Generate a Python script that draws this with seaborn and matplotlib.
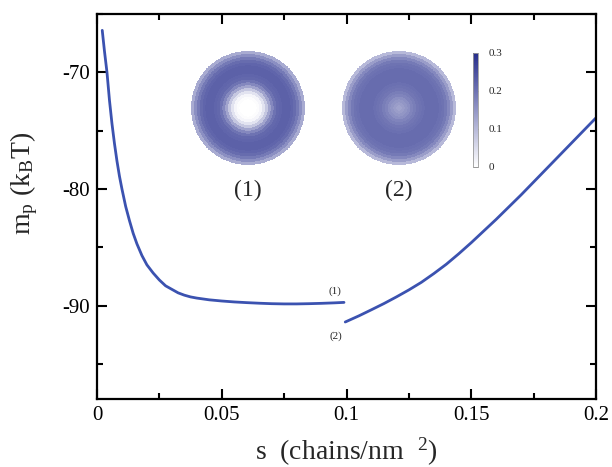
import numpy as np
import pandas as pd
import matplotlib
matplotlib.use("Agg")
import matplotlib.pyplot as plt
import seaborn as sns
from matplotlib.colors import LinearSegmentedColormap
from matplotlib.ticker import MultipleLocator

# ---------------- data ----------------
s_branch1 = [0.0021, 0.003, 0.004, 0.005, 0.006, 0.007, 0.008, 0.009, 0.010, 0.0115,
             0.013, 0.0145, 0.016, 0.018, 0.020, 0.0225, 0.025, 0.0275, 0.030, 0.0325,
             0.035, 0.0375, 0.040, 0.045, 0.050, 0.055, 0.060, 0.065, 0.070, 0.075,
             0.080, 0.085, 0.090, 0.095, 0.099]
m_branch1 = [-66.4, -68.2, -70.0, -72.4, -74.4, -76.1, -77.6, -78.9, -80.0, -81.5,
             -82.7, -83.8, -84.7, -85.7, -86.5, -87.2, -87.8, -88.3, -88.6, -88.9,
             -89.1, -89.25, -89.35, -89.5, -89.6, -89.68, -89.74, -89.79, -89.83, -89.85,
             -89.85, -89.83, -89.8, -89.76, -89.72]
s_branch2 = [0.0995, 0.105, 0.11, 0.115, 0.12, 0.125, 0.13, 0.135, 0.14, 0.145,
             0.15, 0.155, 0.16, 0.165, 0.17, 0.175, 0.18, 0.185, 0.19, 0.195, 0.2]
m_branch2 = [-91.4, -90.87, -90.35, -89.82, -89.25, -88.65, -88.0, -87.25, -86.45, -85.55,
             -84.6, -83.6, -82.6, -81.55, -80.5, -79.4, -78.3, -77.2, -76.1, -75.0, -73.9]

# radial density profiles of the two inset disks (centre -> edge)
disk1_profile = [0.0, 0.0, 0.0, 0.005, 0.015, 0.04, 0.08, 0.13, 0.17, 0.2,
                 0.215, 0.22, 0.225, 0.225, 0.225, 0.22, 0.21, 0.19, 0.16, 0.12]
disk2_profile = [0.13, 0.14, 0.15, 0.16, 0.175, 0.185, 0.195, 0.2, 0.205, 0.21,
                 0.21, 0.21, 0.21, 0.21, 0.205, 0.2, 0.19, 0.17, 0.14, 0.1]
cbar_ticks = [0, 0.1, 0.2, 0.3]
cbar_ticklabels = ["0", "0.1", "0.2", "0.3"]
x_ticks = [0, 0.05, 0.1, 0.15, 0.2]
x_ticklabels = ["0", "0.05", "0.1", "0.15", "0.2"]
y_ticks = [-90, -80, -70]
y_ticklabels = ["-90", "-80", "-70"]

# ---------------- style ----------------
sns.set_theme(style="ticks")
plt.rcParams["font.family"] = ["Liberation Serif", "DejaVu Serif"]
plt.rcParams["mathtext.fontset"] = "custom"
plt.rcParams["mathtext.rm"] = "Liberation Serif"
plt.rcParams["mathtext.it"] = "Liberation Serif:italic"

line_color = "#3b52b0"
cmap = LinearSegmentedColormap.from_list("wb", ["#ffffff", "#262d8c"])

fig = plt.figure(figsize=(6.12, 4.67), dpi=100)
ax = fig.add_axes([97 / 612, 1 - 399 / 467, 499 / 612, 385 / 467])

df1 = pd.DataFrame({"s": s_branch1, "m": m_branch1})
df2 = pd.DataFrame({"s": s_branch2, "m": m_branch2})
sns.lineplot(data=df1, x="s", y="m", ax=ax, color=line_color, lw=2.0, estimator=None)
sns.lineplot(data=df2, x="s", y="m", ax=ax, color=line_color, lw=2.0, estimator=None)

ax.set_xlim(0, 0.2)
ax.set_ylim(-98, -65)
ax.set_xticks(x_ticks)
ax.set_xticklabels(x_ticklabels)
ax.set_yticks(y_ticks)
ax.set_yticklabels(y_ticklabels)
ax.xaxis.set_minor_locator(MultipleLocator(0.025))
ax.yaxis.set_minor_locator(MultipleLocator(5))
ax.tick_params(which="both", direction="in", top=True, right=True, width=1.5, color="black",
               labelsize=15, colors="black")
ax.tick_params(which="major", length=7, pad=5)
ax.tick_params(which="minor", length=4)
for sp in ax.spines.values():
    sp.set_visible(True)
    sp.set_linewidth(1.6)
    sp.set_color("black")

ax.set_xlabel(r"s  (chains/nm  $^{2}$)", fontsize=20, labelpad=8)
ax.set_ylabel(r"m$_\mathrm{p}$ (k$_\mathrm{B}$T)", fontsize=20)
ax.yaxis.set_label_coords(-0.115, 0.56)

ax.text(0.0954, -88.8, "(1)", fontsize=8, ha="center", va="center")
ax.text(0.0958, -92.65, "(2)", fontsize=8, ha="center", va="center")

# ---------------- inset disks ----------------
def draw_disk(rect, profile):
    iax = fig.add_axes(rect)
    n = len(profile)
    r_edges = np.linspace(0, 1, n + 1)
    th = np.linspace(0, 2 * np.pi, 361)
    R, T = np.meshgrid(r_edges, th)
    X, Y = R * np.cos(T), R * np.sin(T)
    C = np.tile(np.asarray(profile), (len(th) - 1, 1))
    iax.pcolormesh(X, Y, C, cmap=cmap, vmin=0, vmax=0.3, shading="flat",
                   edgecolors="none", antialiased=False, rasterized=True)
    iax.set_xlim(-1.02, 1.02)
    iax.set_ylim(-1.02, 1.02)
    iax.set_aspect("equal")
    iax.axis("off")
    return iax

draw_disk([190 / 612, 1 - 166 / 467, 116 / 612, 116 / 467], disk1_profile)
draw_disk([341 / 612, 1 - 166 / 467, 116 / 612, 116 / 467], disk2_profile)

fig.text(248 / 612, 1 - 190 / 467, "(1)", fontsize=17, ha="center", va="center")
fig.text(399 / 612, 1 - 190 / 467, "(2)", fontsize=17, ha="center", va="center")

# colour bar
cax = fig.add_axes([473 / 612, 1 - 167 / 467, 5 / 612, 114 / 467])
sm = matplotlib.cm.ScalarMappable(cmap=cmap, norm=matplotlib.colors.Normalize(0, 0.3))
cb = fig.colorbar(sm, cax=cax, ticks=cbar_ticks)
cb.ax.set_yticklabels(cbar_ticklabels)
cb.outline.set_edgecolor("#999999")
cb.outline.set_linewidth(0.6)
cb.ax.tick_params(direction="in", length=3.6, width=0.6, color="#888888", labelsize=8, pad=8)

fig.savefig("out.png", dpi=100, facecolor="white")
